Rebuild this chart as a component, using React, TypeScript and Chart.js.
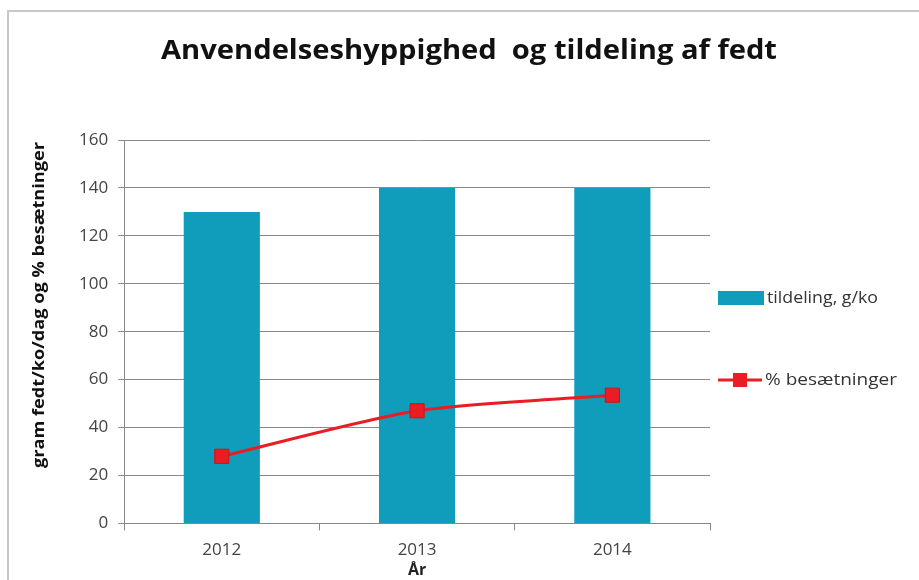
import React, { useEffect, useRef } from "react";
import { Chart, registerables } from "chart.js";

Chart.register(...registerables);

const categories = ["2012", "2013", "2014"];
const tildeling = [130, 140, 140];
const besaetninger = [28, 47, 53.5];
const yTicks = [0, 20, 40, 60, 80, 100, 120, 140, 160];
const titleText = "Anvendelseshyppighed  og tildeling af fedt";
const yTitleText = "gram fedt/ko/dag og % besætninger";

const barColor = "#0f9dbb";
const lineColor = "#ea1c24";
const fontFamily = "'Open Sans', Lato, sans-serif";

function fillStretched(ctx: any, text: string, x: number, y: number, width: number, align: string) {
  const w = ctx.measureText(text).width;
  const s = width / w;
  ctx.save();
  ctx.translate(x, y);
  ctx.scale(s, 1);
  ctx.textAlign = align;
  ctx.fillText(text, 0, 0);
  ctx.restore();
}

const titleLegendPlugin = {
  id: "customTitleLegend",
  afterDraw(chart: any) {
    const ctx = chart.ctx;
    ctx.save();
    // title
    ctx.font = `bold 26px ${fontFamily}`;
    ctx.fillStyle = "#111";
    ctx.textBaseline = "alphabetic";
    fillStretched(ctx, titleText, 469, 59, 616, "center");
    // y-axis title
    ctx.save();
    ctx.translate(44, 305);
    ctx.rotate(-Math.PI / 2);
    ctx.font = `bold 16px ${fontFamily}`;
    ctx.fillStyle = "#111";
    ctx.textBaseline = "alphabetic";
    fillStretched(ctx, yTitleText, 0, 0, 326, "center");
    ctx.restore();
    // legend
    const x = chart.chartArea.right + 8;
    ctx.font = `16px ${fontFamily}`;
    ctx.textBaseline = "middle";
    const y1 = 298;
    ctx.fillStyle = barColor;
    ctx.fillRect(x, y1 - 7, 46, 14);
    ctx.fillStyle = "#333";
    fillStretched(ctx, chart.data.datasets[0].label, x + 49, y1, 111, "left");
    const y2 = 380;
    ctx.strokeStyle = lineColor;
    ctx.lineWidth = 3;
    ctx.beginPath();
    ctx.moveTo(x, y2);
    ctx.lineTo(x + 44, y2);
    ctx.stroke();
    ctx.fillStyle = lineColor;
    ctx.fillRect(x + 15, y2 - 7, 14, 14);
    ctx.fillStyle = "#333";
    fillStretched(ctx, chart.data.datasets[1].label, x + 47, y2, 132, "left");
    ctx.restore();
  },
};

export default function App() {
  const ref = useRef<HTMLCanvasElement | null>(null);

  useEffect(() => {
    document.body.style.margin = "0";
    const canvas = ref.current!;
    const chart = new Chart(canvas, {
      type: "bar",
      data: {
        labels: categories,
        datasets: [
          {
            type: "bar",
            label: "tildeling, g/ko",
            data: tildeling,
            backgroundColor: barColor,
            barPercentage: 0.39,
            categoryPercentage: 1,
            order: 2,
          },
          {
            type: "line",
            label: "% besætninger",
            data: besaetninger,
            borderColor: lineColor,
            backgroundColor: lineColor,
            borderWidth: 3,
            pointStyle: "rect",
            pointRadius: 10,
            pointBorderWidth: 1,
            pointBorderColor: "#d41018",
            tension: 0.25,
            order: 1,
          } as any,
        ],
      },
      options: {
        responsive: false,
        animation: false,
        layout: { padding: { left: 69, right: 209, top: 140, bottom: 0 } },
        plugins: {
          legend: { display: false },
          tooltip: { enabled: false },
          title: { display: false },
        },
        scales: {
          x: {
            grid: {
              display: true,
              drawOnChartArea: false,
              offset: true,
              tickLength: 7,
              color: "#888",
            },
            border: { color: "#888" },
            ticks: {
              color: "#444",
              font: { family: fontFamily, size: 17 },
              padding: 10,
            },
            title: {
              display: true,
              text: "År",
              color: "#222",
              font: { family: fontFamily, size: 16, weight: "bold" },
              padding: { top: -10, bottom: 0 },
            },
          },
          y: {
            min: 0,
            max: 160,
            afterBuildTicks: (axis: any) => {
              axis.ticks = yTicks.map((v) => ({ value: v }));
            },
            grid: { color: "#8a8a8a", tickLength: 6 },
            border: { color: "#888" },
            ticks: {
              color: "#444",
              font: { family: fontFamily, size: 17 },
              padding: 10,
            },
          },
        },
      },
      plugins: [titleLegendPlugin],
    });
    return () => chart.destroy();
  }, []);

  return (
    <div style={{ position: "relative", width: 919, height: 580, background: "#fff" }}>
      <canvas ref={ref} width={919} height={580} style={{ display: "block" }} />
      <div
        style={{
          position: "absolute",
          left: 7,
          top: 10,
          width: 930,
          height: 600,
          borderLeft: "2px solid #c8c8c8",
          borderTop: "2px solid #c8c8c8",
          pointerEvents: "none",
        }}
      />
    </div>
  );
}
